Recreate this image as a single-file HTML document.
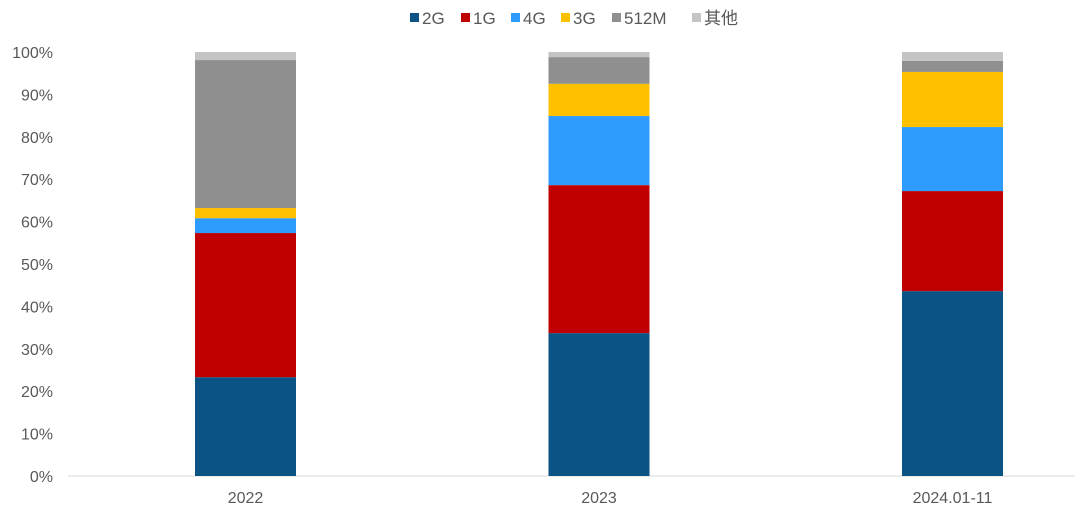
<!DOCTYPE html>
<html><head><meta charset="utf-8"><style>
body{margin:0;background:#fff;font-family:"Liberation Sans","Noto Sans CJK SC",sans-serif;}
svg text{font-family:"Liberation Sans","Noto Sans CJK SC",sans-serif;fill:#595959;}
</style></head><body>
<svg id="chart" width="1080" height="515" viewBox="0 0 1080 515"></svg>
<script>
const categories=["2022","2023","2024.01-11"];
const seriesNames=["2G","1G","4G","3G","512M","其他"];
const seriesColors=["#0b5285","#c00000","#2e9bff","#ffc000","#8f8f8f","#c4c4c4"];
const s2G=[23.3,33.7,43.6];
const s1G=[34.0,34.9,23.6];
const s4G=[3.5,16.3,15.1];
const s3G=[2.4,7.6,13.0];
const s512M=[34.9,6.3,2.6];
const sOther=[1.9,1.2,2.1];
const yTicks=[0,10,20,30,40,50,60,70,80,90,100];
const values=[s2G,s1G,s4G,s3G,s512M,sOther];
const NS="http://www.w3.org/2000/svg";
const svg=document.getElementById('chart');
const y0=476,y1=52;
const yScale=v=>y0-(v/100)*(y0-y1);
const xCenter=i=>245.5+i*353.5;
const barW=101;
function mk(t,a){const e=document.createElementNS(NS,t);for(const k in a)e.setAttribute(k,a[k]);svg.appendChild(e);return e;}
yTicks.forEach(t=>{
  const e=mk('text',{x:53,y:yScale(t)+6,'text-anchor':'end','font-size':16});
  e.textContent=t+'%';
  
  
});
const ax=mk('line',{x1:68,x2:1075,y1:y0,y2:y0,stroke:'#d9d9d9','stroke-width':1});


categories.forEach((c,i)=>{
  let cum=0;
  values.forEach((arr,s)=>{
    const v=arr[i];
    const r=mk('rect',{x:xCenter(i)-barW/2,y:yScale(cum+v),width:barW,height:yScale(cum)-yScale(cum+v),fill:seriesColors[s]});
    
    
    cum+=v;
  });
  const t=mk('text',{x:xCenter(i),y:503,'text-anchor':'middle','font-size':16});
  t.textContent=c;
  
  
});
const legX=[410,461,511,561,612,692];
seriesNames.forEach((n,s)=>{
  const r=mk('rect',{x:legX[s],y:13,width:9,height:9,fill:seriesColors[s]});
  
  
  const t=mk('text',{x:legX[s]+12,y:24,'font-size':17});
  t.textContent=n;
  
  
});
</script>
</body></html>
